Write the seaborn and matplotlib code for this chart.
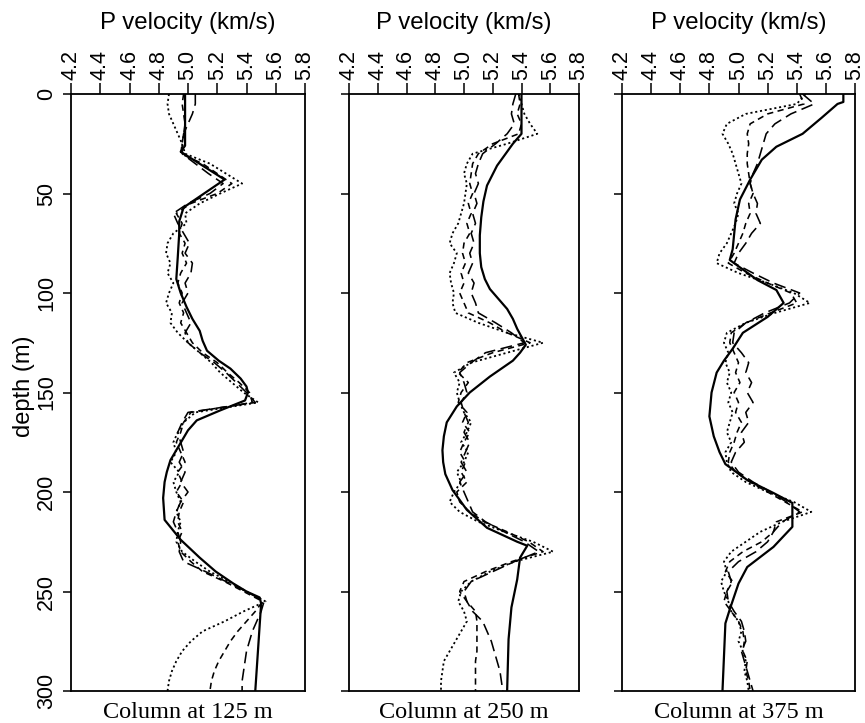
import matplotlib
matplotlib.use("Agg")
import matplotlib.pyplot as plt
import pandas as pd
import seaborn as sns

# ---------------------------------------------------------------
# P-velocity profiles (km/s) versus depth (m) for three columns.
# "true" = reference model, inv_a/b/c = three inversion results.
# ---------------------------------------------------------------
columns = ["Column at 125 m", "Column at 250 m", "Column at 375 m"]
vel_ticks = [4.2, 4.4, 4.6, 4.8, 5.0, 5.2, 5.4, 5.6, 5.8]
vel_tick_labels = ["4.2", "4.4", "4.6", "4.8", "5.0", "5.2", "5.4", "5.6", "5.8"]
depth_ticks = [0, 50, 100, 150, 200, 250, 300]

# depth samples of the inversion profiles
inv_depth = list(range(0, 301, 5))

# --- column at 125 m ---
true_depth_125 = [0, 26, 29, 43, 57, 64, 70, 82, 93, 100, 107, 113, 119, 124, 129, 134, 138, 143, 147, 150, 154,
                  159, 164, 169, 174, 179, 184, 190, 195, 203, 214, 224, 233, 240, 246, 250, 253, 256, 300]
true_vel_125 = [4.98, 4.98, 4.95, 5.25, 4.97, 4.94, 4.94, 4.93, 4.92, 4.95, 4.99, 5.03, 5.08, 5.10, 5.13, 5.21, 5.29, 5.36, 5.40, 5.41, 5.39,
                5.22, 5.06, 5.00, 4.96, 4.92, 4.88, 4.855, 4.84, 4.83, 4.84, 4.95, 5.08, 5.19, 5.31, 5.40, 5.49, 5.50, 5.46]
inv_a_125 = [5.05, 5.05, 5.03, 5.00, 4.97, 4.96, 4.96, 5.05, 5.14, 5.24, 5.15, 5.00, 4.90, 4.93, 4.97,
             5.01, 4.98, 5.03, 5.02, 4.98, 5.00, 4.96, 4.99, 5.02, 4.98, 5.00, 5.08, 5.18, 5.26, 5.33,
             5.40, 5.46, 5.00, 4.96, 4.93, 4.95, 4.97, 4.94, 4.98, 4.95, 5.00, 4.95, 4.92, 4.90, 4.93,
             4.95, 4.94, 4.97, 5.12, 5.26, 5.40, 5.52, 5.50, 5.47, 5.44, 5.42, 5.40, 5.39, 5.38, 5.37, 5.37]
inv_b_125 = [4.97, 4.96, 4.97, 4.98, 4.97, 4.96, 4.95, 5.10, 5.20, 5.30, 5.20, 5.02, 4.92, 4.96, 4.94,
             4.98, 4.96, 4.99, 4.95, 4.93, 4.96, 4.94, 4.97, 4.95, 4.99, 5.03, 5.10, 5.20, 5.27, 5.35,
             5.42, 5.44, 5.02, 4.97, 4.95, 4.92, 4.95, 4.98, 4.93, 4.96, 4.92, 4.97, 4.94, 4.93, 4.96,
             4.93, 4.95, 5.02, 5.10, 5.25, 5.38, 5.51, 5.46, 5.40, 5.34, 5.29, 5.25, 5.21, 5.18, 5.16, 5.15]
inv_c_125 = [4.87, 4.86, 4.87, 4.90, 4.93, 4.96, 4.98, 5.15, 5.26, 5.37, 5.22, 5.08, 4.98, 4.99, 4.90,
             4.86, 4.85, 4.88, 4.86, 4.90, 4.87, 4.85, 4.89, 4.88, 4.93, 5.00, 5.08, 5.16, 5.22, 5.30,
             5.38, 5.48, 5.05, 4.97, 4.93, 4.90, 4.92, 4.88, 4.94, 4.90, 4.92, 4.95, 4.92, 4.95, 4.93,
             4.92, 4.96, 5.05, 5.15, 5.28, 5.40, 5.53, 5.38, 5.25, 5.10, 5.02, 4.96, 4.92, 4.89, 4.87, 4.86]

# --- column at 250 m ---
true_depth_250 = [0, 20, 25, 30, 36, 46, 54, 62, 71, 80, 87, 93, 98, 103, 108, 113, 118, 122, 126, 130, 134, 142,
                  150, 157, 165, 172, 179, 185, 191, 199, 209, 218, 225, 227, 233, 244, 258, 274, 300]
true_vel_250 = [5.40, 5.40, 5.34, 5.29, 5.23, 5.16, 5.135, 5.12, 5.11, 5.11, 5.12, 5.145, 5.18, 5.24, 5.30, 5.34, 5.37,
                5.40, 5.43, 5.39, 5.34, 5.18, 5.04, 4.95, 4.88, 4.86, 4.85, 4.855, 4.87, 4.92, 5.02, 5.16, 5.37, 5.44,
                5.39, 5.37, 5.33, 5.31, 5.30]
inv_a_250 = [5.36, 5.34, 5.33, 5.35, 5.30, 5.22, 5.13, 5.10, 5.08, 5.10, 5.07, 5.09, 5.06, 5.08, 5.05,
             5.07, 5.04, 5.06, 5.03, 5.07, 5.05, 5.08, 5.10, 5.22, 5.33, 5.42, 5.15, 5.05, 4.97, 5.00,
             5.02, 4.98, 5.00, 5.03, 5.00, 5.04, 5.01, 4.98, 5.02, 4.97, 5.00, 5.03, 5.06, 5.15, 5.28,
             5.42, 5.52, 5.35, 5.20, 5.05, 5.00, 5.02, 5.06, 5.13, 5.16, 5.19, 5.21, 5.23, 5.25, 5.26, 5.27]
inv_b_250 = [5.38, 5.39, 5.37, 5.40, 5.38, 5.20, 5.10, 5.06, 5.05, 5.04, 5.06, 5.03, 5.05, 5.02, 5.04,
             5.00, 4.99, 5.01, 4.98, 5.00, 4.97, 5.00, 5.03, 5.18, 5.30, 5.46, 5.20, 5.02, 4.96, 5.03,
             4.98, 4.96, 5.02, 4.99, 5.04, 5.00, 4.97, 5.01, 4.98, 5.02, 4.95, 4.97, 5.04, 5.14, 5.30,
             5.45, 5.55, 5.33, 5.15, 5.00, 4.97, 5.02, 5.08, 5.09, 5.09, 5.09, 5.09, 5.08, 5.08, 5.08, 5.08]
inv_c_250 = [5.38, 5.40, 5.42, 5.46, 5.51, 5.30, 5.06, 5.02, 5.00, 5.02, 5.01, 5.00, 4.98, 4.96, 4.92,
             4.90, 4.95, 4.93, 4.90, 4.91, 4.93, 4.92, 4.94, 5.10, 5.30, 5.55, 5.30, 5.05, 4.93, 4.97,
             4.95, 4.97, 5.00, 5.05, 5.02, 4.98, 5.03, 5.00, 4.95, 4.98, 4.93, 4.90, 4.97, 5.10, 5.28,
             5.48, 5.62, 5.35, 5.18, 5.05, 4.98, 4.96, 5.00, 5.02, 4.98, 4.94, 4.90, 4.86, 4.85, 4.84, 4.84]

# --- column at 375 m ---
true_depth_375 = [0, 4, 5, 12, 20, 26.5, 33, 43, 53, 63, 78, 83.4, 93.5, 98.5, 105, 112, 120, 128, 134, 140,
                  150, 162, 172, 180, 186, 194, 200.5, 205.5, 217.5, 227.6, 237.7, 246, 259, 266, 300]
true_vel_375 = [5.72, 5.72, 5.68, 5.57, 5.44, 5.26, 5.16, 5.08, 5.01, 4.98, 4.96, 4.94, 5.13, 5.26, 5.31, 5.20,
                5.03, 4.96, 4.90, 4.85, 4.815, 4.80, 4.83, 4.87, 4.91, 5.06, 5.24, 5.37, 5.37, 5.24, 5.06, 5.00,
                4.94, 4.91, 4.89]
inv_a_375 = [5.44, 5.52, 5.36, 5.25, 5.19, 5.17, 5.15, 5.13, 5.10, 5.08, 5.10, 5.13, 5.12, 5.15, 5.09,
             5.05, 5.00, 4.97, 5.10, 5.24, 5.42, 5.35, 5.18, 5.05, 4.97, 4.96, 5.02, 5.07, 5.05, 5.09,
             5.06, 5.10, 5.05, 5.07, 5.02, 5.04, 4.98, 4.95, 5.00, 5.10, 5.22, 5.33, 5.42, 5.30, 5.24,
             5.20, 5.12, 5.00, 4.93, 4.95, 4.92, 4.93, 4.97, 5.02, 5.04, 5.05, 5.02, 5.04, 5.06, 5.08, 5.10]
inv_b_375 = [5.42, 5.45, 5.20, 5.08, 5.06, 5.07, 5.06, 5.06, 5.07, 5.08, 5.10, 5.07, 5.08, 5.05, 5.03,
             5.00, 4.97, 4.93, 5.05, 5.20, 5.36, 5.40, 5.22, 5.05, 4.95, 4.94, 4.97, 5.00, 4.98, 5.01,
             4.97, 5.00, 4.98, 5.02, 4.99, 4.97, 4.94, 4.93, 4.98, 5.08, 5.20, 5.32, 5.44, 5.26, 5.24,
             5.16, 5.03, 4.94, 4.91, 4.96, 4.92, 4.90, 4.95, 5.00, 5.03, 5.04, 5.03, 5.06, 5.05, 5.07, 5.08]
inv_c_375 = [5.46, 5.40, 5.05, 4.92, 4.89, 4.93, 4.96, 4.98, 5.00, 5.02, 4.99, 4.97, 5.00, 4.98, 4.95,
             4.92, 4.87, 4.85, 5.00, 5.20, 5.38, 5.49, 5.25, 5.05, 4.92, 4.90, 4.93, 4.91, 4.94, 4.92,
             4.95, 4.93, 4.96, 4.94, 4.92, 4.95, 4.91, 4.92, 4.95, 5.05, 5.20, 5.38, 5.50, 5.30, 5.15,
             5.05, 4.95, 4.90, 4.92, 4.88, 4.90, 4.93, 4.95, 5.00, 5.02, 5.00, 5.03, 5.05, 5.04, 5.06, 5.07]

true_models = [(true_depth_125, true_vel_125), (true_depth_250, true_vel_250), (true_depth_375, true_vel_375)]
inversions = [(inv_a_125, inv_b_125, inv_c_125),
              (inv_a_250, inv_b_250, inv_c_250),
              (inv_a_375, inv_b_375, inv_c_375)]

# ---------------------------------------------------------------
sns.set_style("ticks")
plt.rcParams["font.family"] = ["Liberation Sans", "DejaVu Sans"]
plt.rcParams["lines.scale_dashes"] = False

W, H = 865, 723
fig = plt.figure(figsize=(W / 100, H / 100), dpi=100)

# axes boxes in pixels: (left, right)
panel_px = [(71, 305), (349, 579), (622, 855)]
top_px, bot_px = 94, 691

inv_styles = [(0, (8.5, 4)), (0, (4.5, 3.2)), (0, (1.5, 2.0))]
inv_widths = [1.15, 1.15, 1.3]

for i, (l, r) in enumerate(panel_px):
    ax = fig.add_axes([l / W, 1 - bot_px / H, (r - l) / W, (bot_px - top_px) / H])

    for vals, ls, lw in zip(inversions[i], inv_styles, inv_widths):
        df = pd.DataFrame({"velocity": vals, "depth": inv_depth})
        sns.lineplot(data=df, x="velocity", y="depth", ax=ax, sort=False,
                     estimator=None, color="black", lw=lw, linestyle=ls)

    tdep, tvel = true_models[i]
    df = pd.DataFrame({"velocity": tvel, "depth": tdep})
    sns.lineplot(data=df, x="velocity", y="depth", ax=ax, sort=False,
                 estimator=None, color="black", lw=1.6, linestyle="-")

    ax.set_xlim(4.2, 5.8)
    ax.set_ylim(300, 0)
    ax.set_xlabel("")
    ax.set_ylabel("")

    ax.xaxis.tick_top()
    ax.set_xticks(vel_ticks)
    ax.set_xticklabels(vel_tick_labels)
    ax.set_yticks(depth_ticks)
    ax.tick_params(axis="x", direction="out", length=8, width=1.1, pad=2,
                   labelsize=15.5, labelrotation=90, colors="black")
    ax.tick_params(axis="y", direction="out", length=6, width=1.1, pad=4,
                   labelsize=15.5, labelrotation=90, colors="black")
    for lab in ax.get_yticklabels():
        lab.set_va("center")
    if i > 0:
        ax.set_yticklabels([])

    for sp in ax.spines.values():
        sp.set_visible(True)
        sp.set_linewidth(1.3)
        sp.set_color("black")

    cx = (l + r) / 2 / W
    fig.text(cx, 1 - 23 / H, "P velocity (km/s)", ha="center", va="center",
             fontsize=17.3, color="black")
    fig.text(cx, 1 - 712 / H, columns[i], ha="center", va="center",
             fontsize=17.5, color="black", family=["Liberation Serif", "DejaVu Serif"])

fig.text(24 / W, 1 - 386 / H, "depth (m)", ha="center", va="center",
         rotation=90, fontsize=17, color="black")

fig.savefig("out.png", dpi=100, facecolor="white")
